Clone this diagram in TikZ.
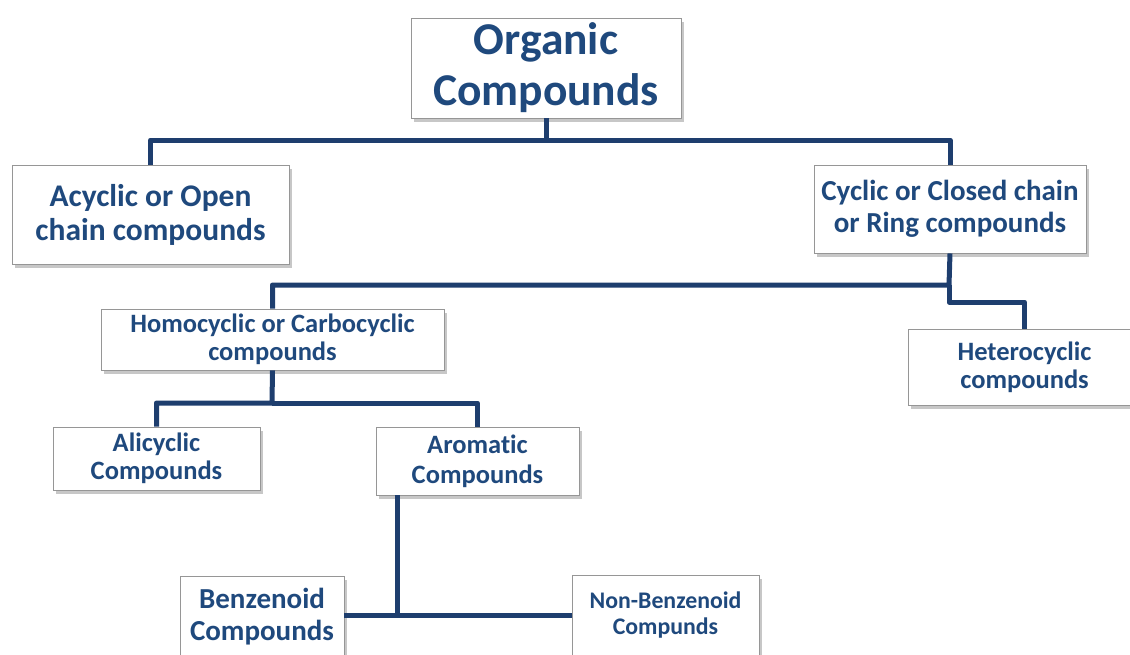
\documentclass[tikz,border=0pt]{standalone}
\usepackage{fontspec}
\setmainfont{Carlito}[Ligatures=NoCommon]
\usetikzlibrary{shadows}
\definecolor{txt}{RGB}{31,73,125}
\definecolor{ln}{RGB}{30,62,110}
\definecolor{bd}{RGB}{150,150,150}
\tikzset{
  box/.style={draw=bd, fill=white, line width=0.9pt, align=center, text=txt, inner sep=0pt,
    drop shadow={shadow xshift=2.5pt, shadow yshift=-4pt, fill=black, opacity=0.22}},
  conn/.style={draw=ln, line width=5pt, line join=round}
}
\begin{document}
\begin{tikzpicture}[x=1pt,y=-1pt]
\useasboundingbox (0,0) rectangle (1130,654);
\clip (0,0) rectangle (1130,654);
\node[box, minimum width=270pt, minimum height=100pt, font=\fontsize{45.5}{51}\selectfont\bfseries] (org) at (546,68) {Organic\\Compounds};
\node[box, minimum width=277pt, minimum height=99pt, font=\fontsize{31.5}{34}\selectfont\bfseries] (acy) at (150.5,214.5) {Acyclic or Open\\chain compounds};
\node[box, minimum width=272pt, minimum height=88pt, font=\fontsize{29}{32}\selectfont\bfseries] (cyc) at (950,209) {Cyclic or Closed chain\\or Ring compounds};
\node[box, minimum width=343pt, minimum height=61pt, font=\fontsize{26.5}{28}\selectfont\bfseries] (homo) at (272.5,339.5) {Homocyclic or Carbocyclic\\compounds};
\node[box, minimum width=232pt, minimum height=76pt, font=\fontsize{26.5}{28}\selectfont\bfseries] (het) at (1024.5,367) {Heterocyclic\\compounds};
\node[box, minimum width=207pt, minimum height=63pt, font=\fontsize{26.5}{28}\selectfont\bfseries] (ali) at (156.5,458.5) {Alicyclic\\Compounds};
\node[box, minimum width=203pt, minimum height=68pt, font=\fontsize{26.5}{30}\selectfont\bfseries] (aro) at (477.5,461) {Aromatic\\Compounds};
\node[box, minimum width=164pt, minimum height=82pt, font=\fontsize{29}{32}\selectfont\bfseries] (ben) at (262,617) {Benzenoid\\Compounds};
\node[box, minimum width=187pt, minimum height=80pt, font=\fontsize{23.8}{26}\selectfont\bfseries] (nonb) at (665.5,615) {Non-Benzenoid\\Compunds};
\coordinate (j1) at (546,140);
\coordinate (j2) at (949,285);
\coordinate (j3) at (949,302);
\coordinate (j4) at (272,403);
\coordinate (a1) at (397,495);
\coordinate (j5) at (397,615);
\draw[conn] (org.south) -- (j1) -| (acy.north);
\draw[conn] (j1) -| (cyc.north);
\draw[conn] (cyc.south) -- (j2) -| (homo.north);
\draw[conn] (j2) -- (j3) -| (het.north);
\draw[conn] (homo.south) -- (j4) -| (ali.north);
\draw[conn] (j4) -| (aro.north);
\draw[conn] (a1) -- (j5) -- (j5 -| ben.east);
\draw[conn] (j5) -- (j5 -| nonb.west);
\end{tikzpicture}
\end{document}
